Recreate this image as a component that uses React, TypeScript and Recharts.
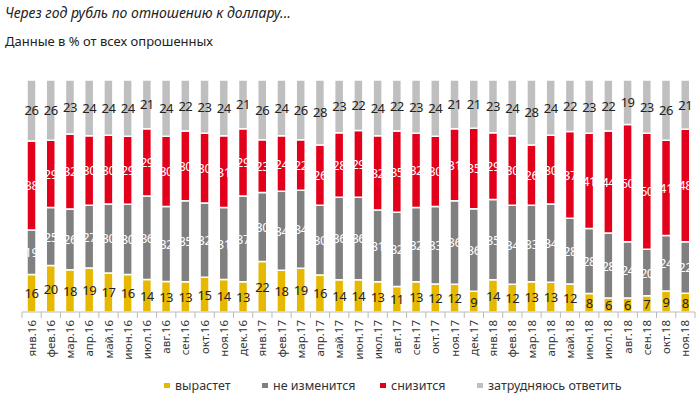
import { Bar, BarChart, LabelList, XAxis, YAxis } from "recharts";

const months = [
  "янв.16", "фев.16", "мар.16", "апр.16", "май.16", "июн.16", "июл.16", "авг.16", "сен.16", "окт.16", "ноя.16", "дек.16",
  "янв.17", "фев.17", "мар.17", "апр.17", "май.17", "июн.17", "июл.17", "авг.17", "сен.17", "окт.17", "ноя.17", "дек.17",
  "янв.18", "фев.18", "мар.18", "апр.18", "май.18", "июн.18", "июл.18", "авг.18", "сен.18", "окт.18", "ноя.18",
];

const rise = [16, 20, 18, 19, 17, 16, 14, 13, 13, 15, 14, 13, 22, 18, 19, 16, 14, 14, 13, 11, 13, 12, 12, 9, 14, 12, 13, 13, 12, 8, 6, 6, 7, 9, 8];
const same = [19, 25, 26, 27, 30, 30, 36, 32, 35, 32, 31, 37, 30, 34, 34, 30, 36, 36, 31, 32, 32, 33, 36, 36, 35, 34, 33, 34, 28, 28, 28, 24, 20, 24, 22];
const fall = [38, 29, 32, 30, 30, 29, 29, 30, 30, 30, 31, 29, 23, 24, 22, 26, 28, 29, 32, 35, 32, 30, 31, 35, 29, 30, 26, 30, 37, 41, 44, 50, 50, 41, 48];
const unsure = [26, 26, 23, 24, 24, 24, 21, 24, 22, 23, 24, 21, 26, 24, 26, 28, 23, 22, 24, 22, 23, 24, 21, 21, 23, 24, 28, 24, 22, 23, 22, 19, 23, 26, 21];

const data = months.map((m, i) => ({ m, rise: rise[i], same: same[i], fall: fall[i], unsure: unsure[i] }));

const series = [
  { key: "rise", name: "вырастет", color: "#e6b800", text: "#222" },
  { key: "same", name: "не изменится", color: "#808080", text: "#fff" },
  { key: "fall", name: "снизится", color: "#e2001a", text: "#fff" },
  { key: "unsure", name: "затрудняюсь ответить", color: "#bfbfbf", text: "#222" },
];

const FONT = "'Noto Sans', sans-serif";
const W = 700;
const H = 397;
const LEFT = 22;
const RIGHT = 5;
const BAND = (W - LEFT - RIGHT) / months.length;

const MonthTick = ({ x, y, payload, index }: any) => (
  <g>
    <line x1={x - BAND / 2} x2={x - BAND / 2} y1={y - 8} y2={y - 2} stroke="#bbb" />
    {index === months.length - 1 && (
      <line x1={x + BAND / 2} x2={x + BAND / 2} y1={y - 8} y2={y - 2} stroke="#bbb" />
    )}
    <text
      x={0}
      y={0}
      transform={`translate(${x + 4},${y}) rotate(-90)`}
      textAnchor="end"
      fontSize={11.5}
      fill="#333"
      fontFamily={FONT}
    >
      {payload.value}
    </text>
  </g>
);

const makeLabel = (color: string) => (props: any) => {
  const { x, y, width, height, value } = props;
  return (
    <text
      x={x + width / 2}
      y={y + height / 2}
      textAnchor="middle"
      dominantBaseline="central"
      fill={color}
      fontSize={13}
      fontFamily={FONT}
      letterSpacing={-0.5}
    >
      {value}
    </text>
  );
};

export default function App() {
  return (
    <div style={{ position: "absolute", left: 0, top: 0, width: W, height: H, background: "#fff", fontFamily: FONT }}>
      <div style={{ position: "absolute", left: 5, top: 3, fontSize: 14, fontStyle: "italic", color: "#222" }}>
        Через год рубль по отношению к доллару...
      </div>
      <div style={{ position: "absolute", left: 5, top: 32, fontSize: 13, color: "#222" }}>
        Данные в % от всех опрошенных
      </div>
      <BarChart
        width={W}
        height={H}
        data={data}
        stackOffset="expand"
        margin={{ top: 80, right: RIGHT, left: LEFT, bottom: 0 }}
        barCategoryGap={5}
      >
        <YAxis hide domain={[0, 1]} />
        <XAxis
          dataKey="m"
          interval={0}
          height={85}
          axisLine={{ stroke: "#bbb" }}
          tickLine={false}
          tick={<MonthTick />}
        />
        {series.map((s) => (
          <Bar
            key={s.key}
            dataKey={s.key}
            name={s.name}
            stackId="a"
            fill={s.color}
            stroke="#fff"
            strokeWidth={1.5}
            isAnimationActive={false}
          >
            <LabelList dataKey={s.key} content={makeLabel(s.text)} />
          </Bar>
        ))}
      </BarChart>
      {series.map((s, i) => (
        <div
          key={s.key}
          style={{
            position: "absolute",
            left: [164, 262, 380, 477][i],
            top: 377,
            fontSize: 12.5,
            color: "#333",
            display: "flex",
            alignItems: "center",
            whiteSpace: "nowrap",
          }}
        >
          <span style={{ display: "inline-block", width: 6, height: 5, background: s.color, marginRight: 5 }} />
          {s.name}
        </div>
      ))}
    </div>
  );
}
